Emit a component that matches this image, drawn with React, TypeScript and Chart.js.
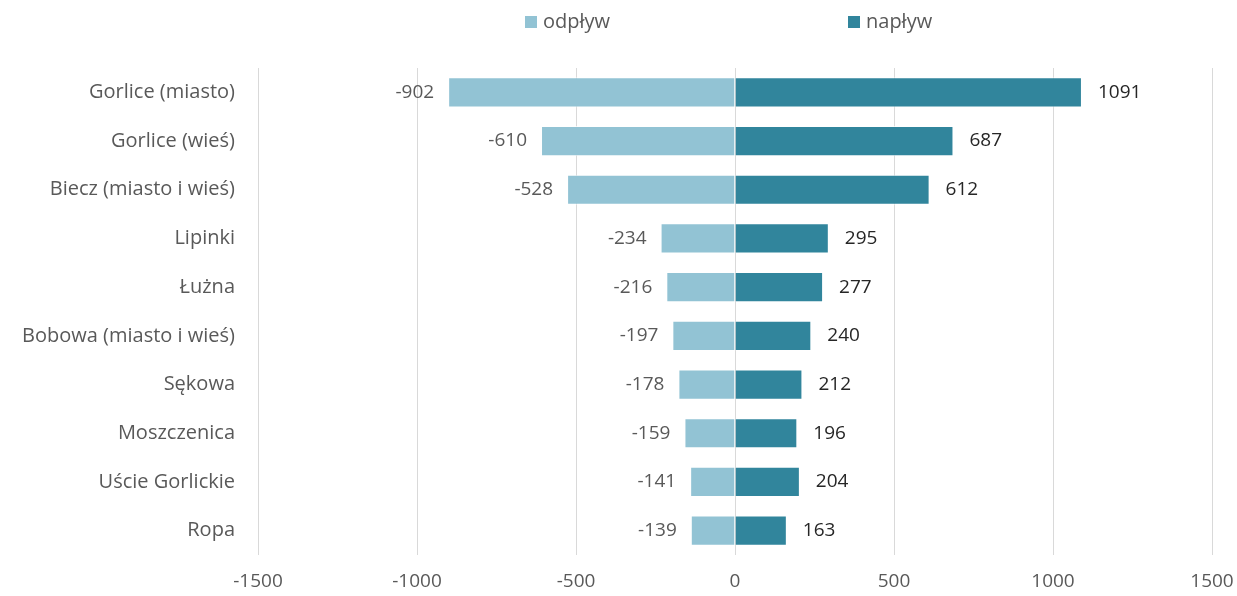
import React, { useEffect, useRef } from "react";
import { Chart, registerables } from "chart.js";

Chart.register(...registerables);

const categories = [
  "Gorlice (miasto)",
  "Gorlice (wieś)",
  "Biecz (miasto i wieś)",
  "Lipinki",
  "Łużna",
  "Bobowa (miasto i wieś)",
  "Sękowa",
  "Moszczenica",
  "Uście Gorlickie",
  "Ropa",
];
const odplyw = [-902, -610, -528, -234, -216, -197, -178, -159, -141, -139];
const naplyw = [1091, 687, 612, 295, 277, 240, 212, 196, 204, 163];
const seriesNames = ["odpływ", "napływ"];
const xTicks = [-1500, -1000, -500, 0, 500, 1000, 1500];

const LIGHT = "#92C3D4";
const DARK = "#31859C";
const FONT = "'Open Sans', sans-serif";
const FS = 19;
const FS_CAT = 20;

const labelPlugin = {
  id: "barLabels",
  afterDatasetsDraw(chart: any) {
    const ctx = chart.ctx;
    ctx.save();
    ctx.font = `${FS}px ${FONT}`;
    ctx.textBaseline = "middle";
    chart.data.datasets.forEach((ds: any, di: number) => {
      const meta = chart.getDatasetMeta(di);
      meta.data.forEach((bar: any, i: number) => {
        const v = ds.data[i];
        if (v < 0) {
          ctx.fillStyle = "#595959";
          ctx.textAlign = "right";
          ctx.fillText(String(v), bar.x - 14, bar.y);
        } else {
          ctx.fillStyle = "#262626";
          ctx.textAlign = "left";
          ctx.fillText(String(v), bar.x + 16, bar.y);
        }
      });
    });
    ctx.restore();
  },
};

const legendPlugin = {
  id: "customLegend",
  afterDraw(chart: any) {
    const ctx = chart.ctx;
    ctx.save();
    ctx.font = `${FS_CAT}px ${FONT}`;
    ctx.textBaseline = "middle";
    ctx.textAlign = "left";
    const y = 22;
    const starts = [525, 848];
    chart.data.datasets.forEach((ds: any, i: number) => {
      const x = starts[i];
      ctx.fillStyle = ds.backgroundColor;
      ctx.fillRect(x, y - 6, 12, 12);
      ctx.fillStyle = "#595959";
      ctx.fillText(ds.label, x + 18, y);
    });
    ctx.restore();
  },
};

export default function App() {
  const ref = useRef<HTMLCanvasElement | null>(null);
  useEffect(() => {
    document.body.style.margin = "0";
    const chart = new Chart(ref.current as HTMLCanvasElement, {
      type: "bar",
      data: {
        labels: categories,
        datasets: [
          {
            label: seriesNames[0],
            data: odplyw,
            backgroundColor: LIGHT,
            borderColor: "rgba(255,255,255,0.7)",
            borderWidth: 1,
            barPercentage: 0.62,
            categoryPercentage: 1,
          },
          {
            label: seriesNames[1],
            data: naplyw,
            backgroundColor: DARK,
            borderColor: "rgba(255,255,255,0.7)",
            borderWidth: 1,
            barPercentage: 0.62,
            categoryPercentage: 1,
          },
        ],
      },
      options: {
        indexAxis: "y",
        animation: false,
        responsive: false,
        layout: { padding: { top: 68, right: 25, left: 0, bottom: 0 } },
        plugins: {
          legend: { display: false },
          tooltip: { enabled: false },
        },
        scales: {
          x: {
            stacked: true,
            min: -1500,
            max: 1500,
            afterBuildTicks: (scale: any) => {
              scale.ticks = xTicks.map((v) => ({ value: v }));
            },
            afterFit: (scale: any) => {
              scale.height = 41;
              scale.paddingRight = 0;
              scale.paddingLeft = 0;
            },
            grid: { color: "#D9D9D9", drawTicks: false, lineWidth: 1 },
            border: { display: false },
            ticks: {
              padding: 15,
              color: "#595959",
              font: { family: FONT, size: FS },
              callback: (v: any) => String(v),
            },
          },
          y: {
            stacked: true,
            afterFit: (scale: any) => {
              scale.width = 258;
            },
            grid: { display: false },
            border: { display: false },
            ticks: {
              padding: 15,
              color: "#595959",
              font: { family: FONT, size: FS_CAT },
            },
          },
        },
      },
      plugins: [labelPlugin, legendPlugin],
    });
    return () => chart.destroy();
  }, []);
  return <canvas ref={ref} width={1237} height={596} style={{ display: "block" }} />;
}
